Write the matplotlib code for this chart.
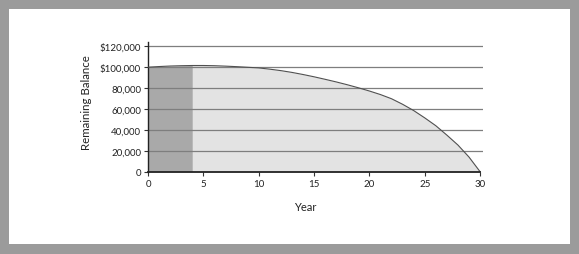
import matplotlib
matplotlib.use("Agg")
import matplotlib.pyplot as plt
from matplotlib.patches import Rectangle

years = list(range(0, 31))
balance = [100000, 100600, 101100, 101400, 101600, 101600, 101400, 101000,
           100500, 99900, 99300, 98100, 96700, 95000, 93000, 90800, 88400,
           85900, 83200, 80300, 77200, 73800, 69800, 64500, 58500, 51500,
           44000, 35000, 25500, 14000, 0]
shade_end = 4
y_ticks = [0, 20000, 40000, 60000, 80000, 100000, 120000]
y_tick_labels = ["0", "20,000", "40,000", "60,000", "80,000", "$100,000", "$120,000"]
x_ticks = [0, 5, 10, 15, 20, 25, 30]

plt.rcParams['font.family'] = ['Lato', 'DejaVu Sans']

W, H = 579, 255
fig = plt.figure(figsize=(W / 100, H / 100), dpi=100)
fig.patch.set_facecolor('#9b9b9b')
fig.add_artist(Rectangle((9 / W, 10 / H), (570 - 9) / W, (245 - 10) / H,
                         transform=fig.transFigure, facecolor='white',
                         edgecolor='none', zorder=0))

ax = fig.add_axes([148 / W, (255 - 172.7) / H, (483.4 - 148) / W, (172.7 - 43.3) / H])
ax.set_facecolor('none')

xs_dark = [x for x in years if x <= shade_end]
ys_dark = balance[:len(xs_dark)]
xs_light = [x for x in years if x >= shade_end]
ys_light = balance[len(xs_dark) - 1:]
ax.fill_between(xs_light, 0, ys_light, color='#e3e3e3', lw=0, zorder=1)
ax.fill_between(xs_dark, 0, ys_dark, color='#a9a9a9', lw=0, zorder=1)

for y in y_ticks[1:]:
    ax.axhline(y, color='#7e7e7e', lw=0.9, zorder=2)

ax.plot(years, balance, color='#505050', lw=0.8, zorder=3)

ax.set_xlim(0, 30.3)
ax.set_ylim(0, 123800)
ax.set_xticks(x_ticks)
ax.set_yticks(y_ticks)
ax.set_yticklabels(y_tick_labels)
ax.tick_params(axis='both', labelsize=7, length=3, width=0.8, color='#333333',
               labelcolor='#222222', pad=2)
for s in ('top', 'right'):
    ax.spines[s].set_visible(False)
ax.spines['left'].set_color('#222222')
ax.spines['bottom'].set_color('#222222')
ax.spines['left'].set_linewidth(1.0)
ax.spines['bottom'].set_linewidth(1.3)
ax.spines['bottom'].set_bounds(0, 30)
ax.spines['bottom'].set_zorder(4)

fig.text(86 / W, 1 - 103 / H, "Remaining Balance", rotation=90, ha='center',
         va='center', fontsize=8.3, color='#222222')
fig.text(305 / W, 1 - 208 / H, "Year", ha='center', va='center',
         fontsize=8, color='#222222')

fig.savefig("out.png", dpi=100)
